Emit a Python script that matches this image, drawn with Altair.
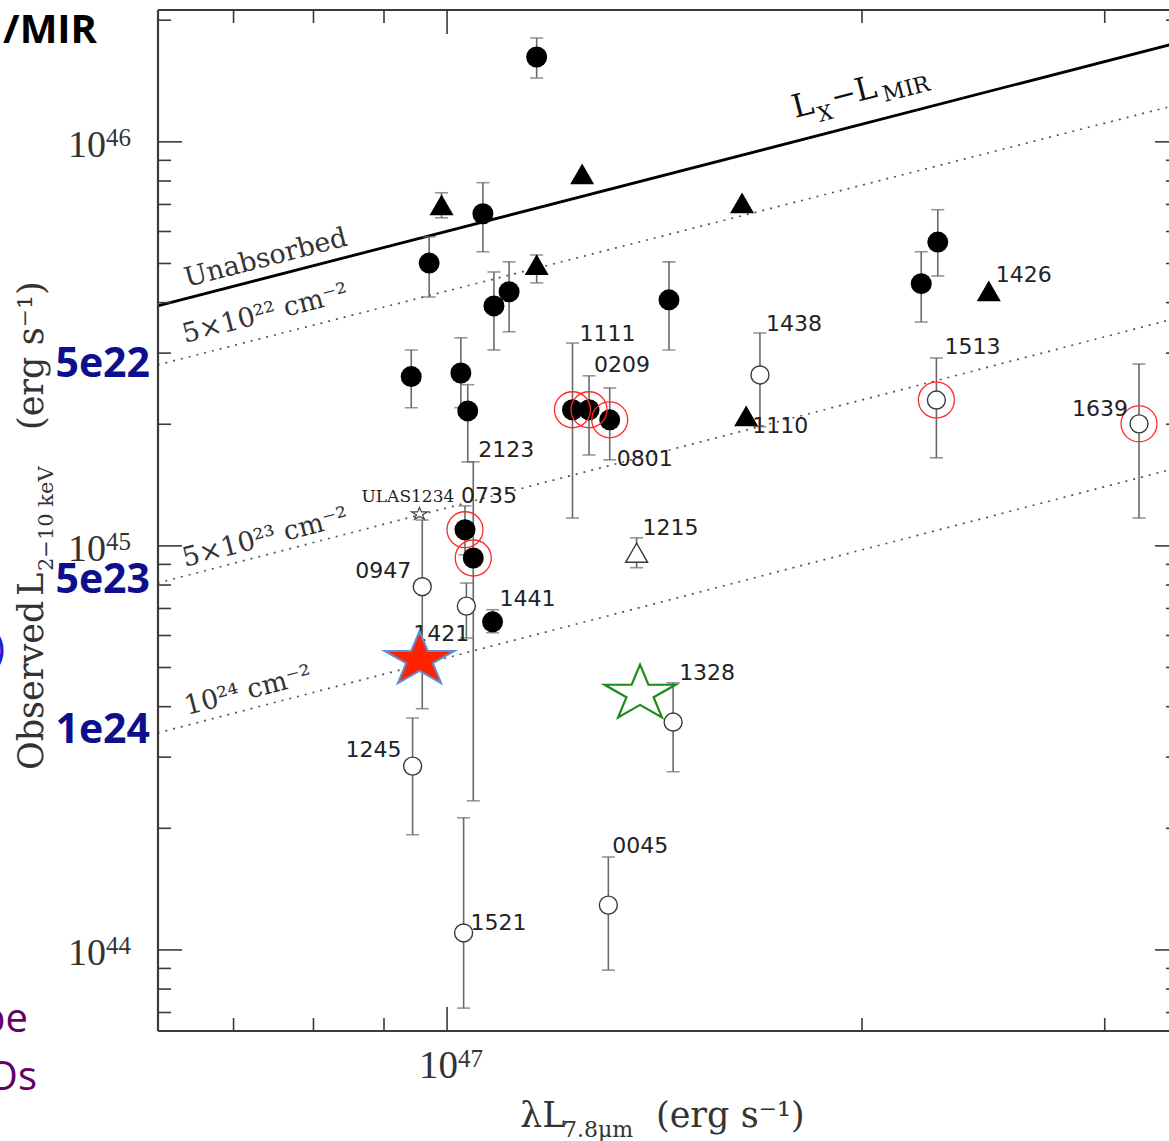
import altair as alt
import pandas as pd

# ---------------------------------------------------------------------------
# Sources: log10 of lambda L(7.8um) and observed L(2-10 keV), both in erg/s
# ---------------------------------------------------------------------------
names = ["", "", "", "", "", "", "", "", "", "", "", "1441", "1111", "0209", "0801", "0735", "2123",
         "", "", "", "", "1426", "1110", "1215",
         "1438", "1513", "1639", "0947", "1421", "1245", "1328", "1521", "0045", "ULAS1234"]
kinds = ["filled"] * 17 + ["tri"] * 6 + ["tri_open"] + ["open"] * 9 + ["star"]
log_lmir = [47.065, 47.026, 46.987, 47.034, 47.045, 47.161, 47.356, 47.344, 46.974, 47.010,
            47.015, 47.033, 47.091, 47.103, 47.118, 47.013, 47.019,
            46.996, 47.098, 47.065, 47.214, 47.393, 47.217, 47.1375,
            47.227, 47.355, 47.502, 46.982, 47.014, 46.975, 47.164, 47.012, 47.117, 46.980]
log_lx = [46.210, 45.822, 45.700, 45.594, 45.629, 45.609, 45.752, 45.649, 45.419, 45.428,
          45.334, 44.812, 45.337, 45.337, 45.312, 45.040, 44.970,
          45.844, 45.921, 45.696, 45.849, 45.631, 45.322, 44.983,
          45.423, 45.361, 45.302, 44.899, 44.851, 44.455, 44.564, 44.042, 44.111, 45.079]
log_lx_lo = [46.158, 45.728, 45.616, 45.485, 45.530, 45.485, 45.668, 45.554, 45.342, 45.342,
             45.208, 44.785, 45.069, 45.225, 45.213, 44.978, 44.369,
             45.812, None, 45.651, None, None, None, 44.946,
             45.295, 45.218, 45.069, 44.597, 44.772, 44.285, 44.441, 43.856, 43.950, None]
log_lx_hi = [46.257, 45.899, 45.765, 45.678, 45.703, 45.703, 45.832, 45.728, 45.485, 45.515,
             45.399, 44.842, 45.502, 45.421, 45.391, 45.099, 45.208,
             45.874, None, 45.720, None, None, None, 45.020,
             45.527, 45.465, 45.450, 45.064, 44.908, 44.574, 44.661, 44.327, 44.230, None]
ringed_sources = ["1111", "0209", "0801", "0735", "2123", "1513", "1639"]

# L_X - L_MIR relation and its absorbed versions, at both ends of the MIR range
rel_log_lmir = [46.790, 47.524]
rel_unabsorbed = [45.594, 46.240]
rel_nh_5e22 = [45.448, 46.087]
rel_nh_5e23 = [44.908, 45.559]
rel_nh_1e24 = [44.537, 45.188]

# highlighted sources (red filled star, green open star)
hl_log_lmir = [46.980, 47.140]
hl_log_lx = [44.718, 44.634]

# axis ticks
x_major = [1e47]
x_minor = [7e46, 8e46, 9e46, 2e47, 3e47]
y_major = [1e44, 1e45, 1e46]
y_minor = [m * 10.0 ** k for k in (43, 44, 45, 46) for m in range(2, 10)
           if 6.3e43 < m * 10.0 ** k < 2.12e46]

# ---------------------------------------------------------------------------
W, H = 1011, 1021
xs = alt.Scale(type="log", domain=[6.17e46, 3.34e47])
ys = alt.Scale(type="log", domain=[6.3e43, 2.12e46])


def X(f):
    return alt.X(f"{f}:Q", scale=xs, axis=None)


def Y(f):
    return alt.Y(f"{f}:Q", scale=ys, axis=None)


pts = pd.DataFrame({
    "name": names,
    "kind": kinds,
    "lmir": [10 ** v for v in log_lmir],
    "lx": [10 ** v for v in log_lx],
    "lo": [10 ** v if v is not None else None for v in log_lx_lo],
    "hi": [10 ** v if v is not None else None for v in log_lx_hi],
})
pts["ring"] = pts["name"].isin(ringed_sources)
bars = pts.dropna(subset=["lo", "hi"])

rel = pd.DataFrame({
    "lmir": [10 ** v for v in rel_log_lmir] * 4,
    "lx": [10 ** v for v in rel_unabsorbed + rel_nh_5e22 + rel_nh_5e23 + rel_nh_1e24],
    "rel": ["unabs"] * 2 + ["5e22"] * 2 + ["5e23"] * 2 + ["1e24"] * 2,
})

dummy = pd.DataFrame({"d": [0]})
SERIF = "DejaVu Serif"
TICKFONT = "Liberation Serif"
LABFONT = "DejaVu Sans"
GREY = "#333333"

star_path = ("M0,-0.821L0.236,-0.254L1,-0.254L0.382,0.097L0.618,0.665L0,0.314"
             "L-0.618,0.665L-0.382,0.097L-1,-0.254L-0.236,-0.254Z")


def txt(s, x, y, size, font=SERIF, color=GREY, angle=0, align="left",
        weight="normal", dx=0, dy=0):
    return alt.Chart(dummy).mark_text(
        text=s, font=font, fontSize=size, color=color, angle=angle, align=align,
        baseline="alphabetic", fontWeight=weight, dx=dx, dy=dy
    ).encode(x=alt.value(x), y=alt.value(y))


layers = []

# --- relations ---
layers.append(alt.Chart(rel[rel.rel == "unabs"]).mark_line(color="black", strokeWidth=2.8)
              .encode(x=X("lmir"), y=Y("lx")))
layers.append(alt.Chart(rel[rel.rel != "unabs"]).mark_line(color="#555555", strokeWidth=1.7,
                                                           strokeDash=[2, 6])
              .encode(x=X("lmir"), y=Y("lx"), detail="rel:N"))

# --- error bars ---
layers.append(alt.Chart(bars).mark_rule(color="#6a6a6a", strokeWidth=1.6)
              .encode(x=X("lmir"), y=Y("lo"), y2="hi"))
for end in ("lo", "hi"):
    layers.append(alt.Chart(bars).mark_tick(color="#6a6a6a", orient="horizontal",
                                            size=13, thickness=1.6)
                  .encode(x=X("lmir"), y=Y(end)))

# --- markers ---
layers.append(alt.Chart(pts[pts.kind == "filled"]).mark_point(
    shape="circle", filled=True, color="black", size=441, opacity=1)
    .encode(x=X("lmir"), y=Y("lx")))
layers.append(alt.Chart(pts[pts.kind == "open"]).mark_point(
    shape="circle", filled=True, fill="white", stroke="#3a3a3a", strokeWidth=1.4,
    size=324, opacity=1).encode(x=X("lmir"), y=Y("lx")))
layers.append(alt.Chart(pts[pts.kind == "tri"]).mark_point(
    shape="triangle-up", filled=True, color="black", size=576, opacity=1)
    .encode(x=X("lmir"), y=Y("lx")))
layers.append(alt.Chart(pts[pts.kind == "tri_open"]).mark_point(
    shape="triangle-up", filled=True, fill="white", stroke="#3a3a3a", strokeWidth=1.4,
    size=484, opacity=1).encode(x=X("lmir"), y=Y("lx")))
layers.append(alt.Chart(pts[pts.kind == "star"]).mark_point(
    shape=star_path, filled=True, fill="white", stroke="#444444", strokeWidth=1.2,
    size=256, opacity=1).encode(x=X("lmir"), y=Y("lx")))
layers.append(alt.Chart(pts[pts.ring]).mark_point(
    shape="circle", filled=False, color="#ff2a2a", strokeWidth=1.3, size=1296, opacity=1)
    .encode(x=X("lmir"), y=Y("lx")))

# --- source labels ---
label_style = {
    "1111": (7, -69, "left"), "0209": (5, -38, "left"), "0801": (7, 46, "left"),
    "2123": (5, -101, "left"), "1438": (6, -44, "left"), "1513": (8, -46, "left"),
    "1426": (7, -9, "left"), "1110": (6, 17, "left"), "1639": (-11, -8, "right"),
    "1215": (6, -18, "left"), "0947": (-11, -9, "right"), "1441": (7, -16, "left"),
    "1421": (3, 35, "right"), "1328": (6, -42, "left"), "1245": (-11, -9, "right"),
    "0045": (4, -52, "left"), "1521": (7, -3, "left"), "0735": (-4, -27, "left"),
    "ULAS1234": (-58, -12, "left"),
}
for nm, (dx, dy, al) in label_style.items():
    row = pts[pts.name == nm]
    small = nm.startswith("ULAS")
    layers.append(alt.Chart(row).mark_text(
        font=SERIF if small else LABFONT, fontSize=17 if small else 22, color="#222222",
        align=al, baseline="alphabetic", dx=dx, dy=dy)
        .encode(x=X("lmir"), y=Y("lx"), text="name:N"))

# --- highlighted sources ---
hl = pd.DataFrame({"lmir": [10 ** v for v in hl_log_lmir], "lx": [10 ** v for v in hl_log_lx]})
layers.append(alt.Chart(hl.iloc[[0]]).mark_point(
    shape=star_path, filled=True, fill="#ff2200", stroke="#5b8fd6", strokeWidth=2,
    size=4900, opacity=1).encode(x=X("lmir"), y=Y("lx")))
layers.append(alt.Chart(hl.iloc[[1]]).mark_point(
    shape=star_path, filled=False, color="#1a8c1a", strokeWidth=2.2,
    size=5041, opacity=1).encode(x=X("lmir"), y=Y("lx")))

# --- frame ---
FRAME = "#3a3a3a"
layers.append(alt.Chart(dummy).mark_rule(color=FRAME, strokeWidth=2.2)
              .encode(x=alt.value(0), y=alt.value(0), y2=alt.value(H)))
layers.append(alt.Chart(dummy).mark_rule(color=FRAME, strokeWidth=2.2)
              .encode(x=alt.value(0), x2=alt.value(W), y=alt.value(0)))
layers.append(alt.Chart(dummy).mark_rule(color=FRAME, strokeWidth=2.2)
              .encode(x=alt.value(0), x2=alt.value(W), y=alt.value(H)))

# --- ticks (drawn inward on all sides) ---
for vals, ln in ((y_major, 24), (y_minor, 13)):
    d = pd.DataFrame({"v": vals})
    layers.append(alt.Chart(d).mark_rule(color=FRAME, strokeWidth=1.6)
                  .encode(x=alt.value(0), x2=alt.value(ln), y=Y("v")))
    layers.append(alt.Chart(d).mark_rule(color=FRAME, strokeWidth=1.6)
                  .encode(x=alt.value(W + 10 - ln), x2=alt.value(W), y=Y("v")))
for vals, ln in ((x_major, 24), (x_minor, 13)):
    d = pd.DataFrame({"v": vals})
    layers.append(alt.Chart(d).mark_rule(color=FRAME, strokeWidth=1.6)
                  .encode(y=alt.value(0), y2=alt.value(ln), x=X("v")))
    layers.append(alt.Chart(d).mark_rule(color=FRAME, strokeWidth=1.6)
                  .encode(y=alt.value(H - ln), y2=alt.value(H), x=X("v")))

# --- tick labels ---
ylab = pd.DataFrame({"v": y_major, "exp": ["44", "45", "46"]})
layers.append(alt.Chart(ylab).mark_text(text="10", font=TICKFONT, fontSize=38, color=GREY,
                                        align="right", baseline="alphabetic", dy=15)
              .encode(x=alt.value(-52), y=Y("v")))
layers.append(alt.Chart(ylab).mark_text(font=TICKFONT, fontSize=25, color=GREY,
                                        align="left", baseline="alphabetic", dy=4)
              .encode(x=alt.value(-52), y=Y("v"), text="exp:N"))
xlab = pd.DataFrame({"v": x_major, "exp": ["47"]})
layers.append(alt.Chart(xlab).mark_text(text="10", font=TICKFONT, fontSize=39, color=GREY,
                                        align="right", baseline="alphabetic", dx=11)
              .encode(x=X("v"), y=alt.value(1068)))
layers.append(alt.Chart(xlab).mark_text(font=TICKFONT, fontSize=25, color=GREY,
                                        align="left", baseline="alphabetic", dx=11)
              .encode(x=X("v"), y=alt.value(1057), text="exp:N"))

# --- axis titles ---
layers += [
    txt("λL", 362, 1117, 35),
    txt("7.8μm", 405, 1127, 22),
    txt("(erg  s⁻¹)", 498, 1117, 35),
    txt("Observed", -115, 760, 35, angle=270),
    txt("L", -115, 760, 35, angle=270, dx=174),
    txt("2−10 keV", -115, 760, 21, angle=270, dx=199, dy=10),
    txt("(erg  s⁻¹)", -115, 760, 35, angle=270, dx=340),
]

# --- relation labels ---
ANG = 345.5
layers += [
    txt("Unabsorbed", 29, 277, 27, angle=ANG),
    txt("5×10²²  cm⁻²", 27, 333, 27, angle=ANG),
    txt("5×10²³  cm⁻²", 27, 557, 27, angle=ANG),
    txt("10²⁴  cm⁻²", 29, 705, 27, angle=ANG),
    txt("L", 637, 108, 32, color="#111111", angle=ANG),
    txt("X", 637, 108, 21, color="#111111", angle=ANG, dx=23, dy=10),
    txt("−", 637, 108, 30, color="#111111", angle=ANG, dx=40),
    txt("L", 637, 108, 32, color="#111111", angle=ANG, dx=65),
    txt("MIR", 637, 108, 22, color="#111111", angle=ANG, dx=91, dy=7),
]

# --- column-density annotations at the left end of each absorbed relation ---
NAVY = "#0d0f8c"
for val, s, dy in ((rel_nh_5e22[0], "5e22", 12), (rel_nh_5e23[0], "5e23", 10),
                   (rel_nh_1e24[0], "1e24", 10)):
    d = pd.DataFrame({"v": [10 ** val]})
    layers.append(alt.Chart(d).mark_text(text=s, font="Open Sans", fontWeight="bold",
                                         fontSize=41, color=NAVY, align="right",
                                         baseline="alphabetic", dy=dy)
                  .encode(x=alt.value(-8), y=Y("v")))

# --- surrounding slide text ---
layers += [
    txt("/MIR", -61, 33, 40, font="Open Sans", color="black", align="right", weight="bold"),
    txt("pe", -130, 1022, 40, font="Open Sans", color="#660066", align="right"),
    txt("Os", -121, 1080, 40, font="Open Sans", color="#660066", align="right"),
    txt(")", -153, 652, 40, font="Open Sans", color="#1c1cd8", align="right"),
]

chart = alt.layer(*layers).properties(
    width=W, height=H,
    padding={"left": 158, "top": 10, "right": 0, "bottom": 110},
    autosize=alt.AutoSizeParams(type="none"),
    background="white",
).configure_view(stroke=None)

chart.save("out.html", embed_options={"renderer": "svg", "actions": False})
